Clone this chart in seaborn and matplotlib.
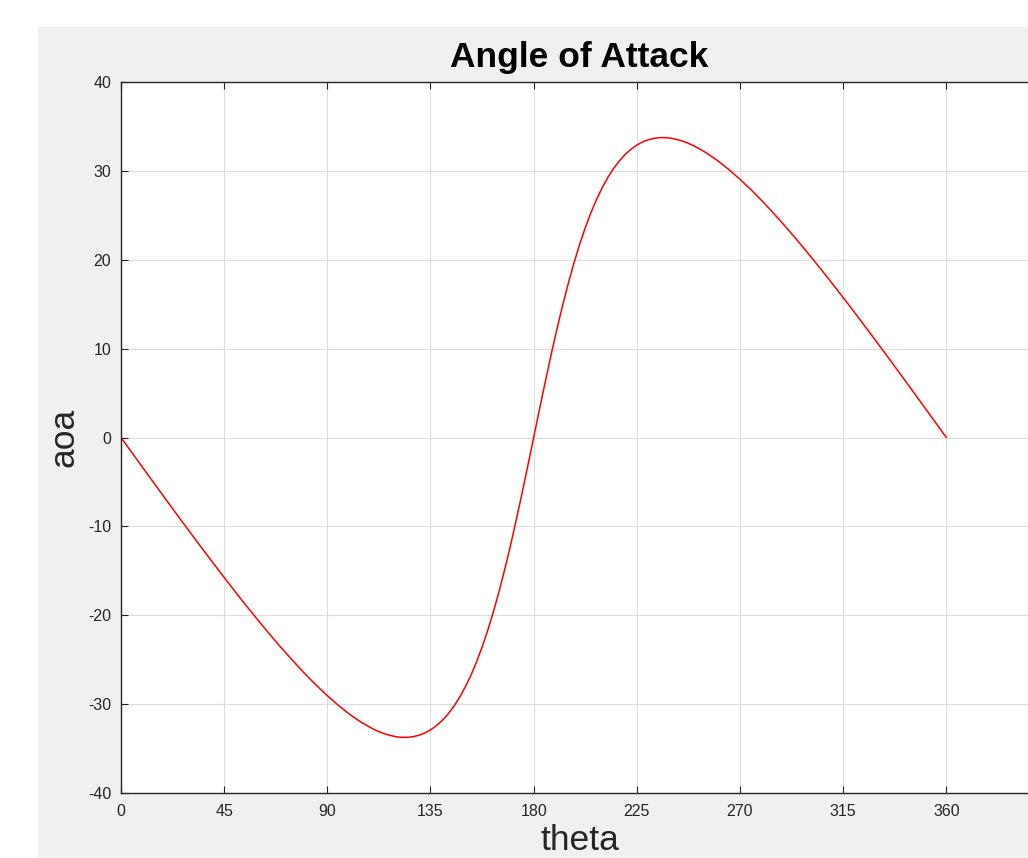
import matplotlib
matplotlib.use("Agg")
import matplotlib.pyplot as plt
import seaborn as sns
import pandas as pd
from matplotlib.patches import Rectangle

# ---- data (theta in degrees, angle of attack in degrees) ----
theta = [0, 5, 10, 15, 20, 25, 30, 35, 40, 45, 50, 55, 60, 65, 70, 75, 80, 85, 90,
         95, 100, 105, 110, 112.5, 115, 117.5, 120, 122.5, 125, 127.5, 130, 132.5, 135,
         137.5, 140, 142.5, 145, 147.5, 150, 152.5, 155, 157.5, 160, 162.5, 165, 167.5,
         170, 172.5, 175, 177.5, 180,
         182.5, 185, 187.5, 190, 192.5, 195, 197.5, 200, 202.5, 205, 207.5, 210, 212.5,
         215, 217.5, 220, 222.5, 225, 227.5, 230, 232.5, 235, 237.5, 240, 242.5, 245,
         247.5, 250, 255, 260, 265, 270,
         275, 280, 285, 290, 295, 300, 305, 310, 315, 320, 325, 330, 335, 340, 345, 350, 355, 360]
aoa = [0.0, -1.79, -3.57, -5.35, -7.12, -8.88, -10.62, -12.35, -14.06, -15.75, -17.41, -19.04,
       -20.63, -22.18, -23.69, -25.13, -26.52, -27.83, -29.05,
       -30.18, -31.20, -32.08, -32.80, -33.10, -33.34, -33.53, -33.67, -33.74, -33.74, -33.66,
       -33.50, -33.25, -32.90,
       -32.44, -31.87, -31.16, -30.32, -29.32, -28.16, -26.83, -25.31, -23.59, -21.68, -19.56,
       -17.24, -14.72, -12.03, -9.17, -6.19, -3.12, 0.0,
       3.12, 6.19, 9.17, 12.03, 14.72, 17.24, 19.56, 21.68, 23.59, 25.31, 26.83, 28.16, 29.32,
       30.32, 31.16, 31.87, 32.44, 32.90, 33.25, 33.50, 33.66, 33.74, 33.74, 33.67, 33.53, 33.34,
       33.10, 32.80, 32.08, 31.20, 30.18, 29.05,
       27.83, 26.52, 25.13, 23.69, 22.18, 20.63, 19.04, 17.41, 15.75, 14.06, 12.35, 10.62, 8.88,
       7.12, 5.35, 3.57, 1.79, 0.0]
x_ticks = [0, 45, 90, 135, 180, 225, 270, 315, 360]
y_ticks = [-40, -30, -20, -10, 0, 10, 20, 30, 40]
title_text = "Angle of Attack"
x_label = "theta"
y_label = "aoa"

df = pd.DataFrame({"theta": theta, "aoa": aoa})

sns.set_theme(style="white")
plt.rcParams["font.family"] = ["Liberation Sans", "DejaVu Sans"]

W, H = 1028, 858
fig = plt.figure(figsize=(W / 100, H / 100), dpi=100, facecolor="white")
# grey figure panel (MATLAB-like), offset from the white border
fig.patches.append(Rectangle((38 / W, 0), 1 - 38 / W, (H - 27) / H,
                             transform=fig.transFigure, facecolor="#f0f0f0",
                             edgecolor="none", zorder=-10))

ax_left, ax_right, ax_top, ax_bottom = 121, 1038, 82, 793
ax = fig.add_axes([ax_left / W, (H - ax_bottom) / H,
                   (ax_right - ax_left) / W, (ax_bottom - ax_top) / H])
ax.set_facecolor("white")

sns.lineplot(data=df, x="theta", y="aoa", ax=ax, color="#ff0000", linewidth=1.1,
             estimator=None, sort=False)

ax.set_xlim(0, 400)
ax.set_ylim(-40, 40)
ax.set_xticks(x_ticks)
ax.set_yticks(y_ticks)
ax.set_xticklabels([str(v) for v in x_ticks])
ax.set_yticklabels([str(v) for v in y_ticks])

ax.grid(True, color="#dedede", linewidth=0.8)
ax.set_axisbelow(True)

dark = "#262626"
for s in ax.spines.values():
    s.set_visible(True)
    s.set_color(dark)
    s.set_linewidth(1.0)

ax.tick_params(axis="both", which="major", direction="in", length=5, width=0.8,
               color=dark, labelcolor=dark, labelsize=11.5,
               top=True, right=True, bottom=True, left=True)
ax.tick_params(axis="x", pad=8)
ax.tick_params(axis="y", pad=7)

ax.set_title(title_text, fontsize=25.5, fontweight="bold", color="black", pad=11)
ax.set_xlabel(x_label, fontsize=25.5, color=dark)
ax.set_ylabel(y_label, fontsize=25.5, color=dark)
ax.xaxis.set_label_coords(0.5, -(824 - ax_bottom) / (ax_bottom - ax_top))
ax.yaxis.set_label_coords(-(ax_left - 80.5) / (ax_right - ax_left), 0.5)

fig.savefig("out.png", dpi=100, facecolor="white")
